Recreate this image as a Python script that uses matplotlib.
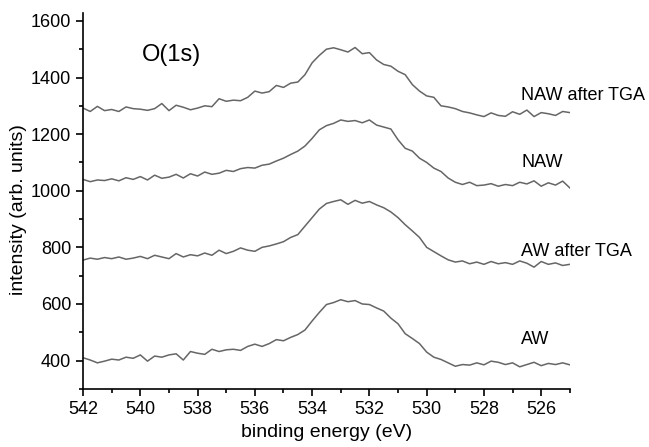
import numpy as np
import matplotlib
matplotlib.use("Agg")
import matplotlib.pyplot as plt
from matplotlib.ticker import MultipleLocator

plt.rcParams["font.family"] = ["Liberation Sans", "DejaVu Sans"]

# binding energy grid (eV), 542 -> 525 in 0.25 eV steps
energy = np.arange(542.0, 524.99, -0.25)

# O(1s) spectra
naw_tga = [1292, 1280, 1298, 1283, 1287, 1280, 1296, 1290, 1288, 1284,
           1290, 1308, 1283, 1302, 1295, 1286, 1292, 1300, 1297, 1325,
           1316, 1320, 1318, 1330, 1352, 1345, 1350, 1372, 1365, 1380,
           1384, 1410, 1452, 1478, 1500, 1505, 1498, 1490, 1506, 1484,
           1488, 1462, 1446, 1440, 1422, 1410, 1375, 1352, 1335, 1330,
           1300, 1296, 1290, 1280, 1275, 1268, 1262, 1275, 1266, 1263,
           1279, 1270, 1285, 1262, 1276, 1272, 1266, 1280, 1276]
naw = [1040, 1032, 1038, 1036, 1042, 1035, 1046, 1040, 1050, 1038,
       1055, 1044, 1048, 1058, 1045, 1060, 1052, 1066, 1058, 1062,
       1072, 1068, 1078, 1082, 1080, 1090, 1094, 1105, 1115, 1128,
       1140, 1158, 1185, 1215, 1230, 1238, 1250, 1245, 1248, 1240,
       1250, 1232, 1225, 1218, 1180, 1150, 1140, 1115, 1100, 1080,
       1068, 1045, 1030, 1022, 1030, 1018, 1020, 1025, 1016, 1022,
       1018, 1030, 1024, 1035, 1016, 1028, 1020, 1034, 1010]
aw_tga = [755, 762, 758, 764, 760, 766, 758, 762, 768, 760,
          772, 766, 760, 778, 766, 774, 770, 780, 772, 790,
          778, 786, 798, 790, 786, 800, 805, 812, 820, 835,
          845, 875, 905, 935, 955, 962, 968, 952, 966, 956,
          962, 950, 940, 925, 905, 880, 858, 835, 800, 785,
          770, 756, 748, 752, 742, 748, 740, 750, 742, 746,
          740, 752, 744, 730, 750, 740, 745, 736, 740]
aw = [410, 402, 392, 398, 405, 402, 412, 408, 420, 398,
      416, 412, 420, 424, 402, 432, 426, 422, 440, 432,
      438, 440, 436, 450, 458, 450, 460, 474, 470, 482,
      492, 508, 540, 570, 598, 605, 615, 608, 612, 600,
      598, 586, 575, 550, 530, 495, 478, 460, 430, 412,
      404, 392, 380, 386, 384, 392, 385, 398, 394, 386,
      392, 378, 386, 394, 382, 390, 386, 392, 385]

series = [naw_tga, naw, aw_tga, aw]
names = ["NAW after TGA", "NAW", "AW after TGA", "AW"]
label_y = [1335, 1100, 785, 474]

fig = plt.figure(figsize=(6.49, 4.47), dpi=100)
ax = fig.add_axes([0.128, 0.13, 0.75, 0.841])

for s in series:
    ax.plot(energy, s, color="#666666", linewidth=1.1)

for name, yy in zip(names, label_y):
    ax.text(526.7, yy, name, fontsize=13, va="center", ha="left", clip_on=False)

ax.text(538.9, 1478, "O(1s)", fontsize=17, ha="center", va="center")

ax.set_xlim(542, 525)
ax.set_ylim(300, 1628)
ax.xaxis.set_major_locator(MultipleLocator(2))
ax.xaxis.set_minor_locator(MultipleLocator(1))
ax.yaxis.set_major_locator(MultipleLocator(200))
ax.yaxis.set_minor_locator(MultipleLocator(100))
ax.set_yticks(np.arange(400, 1601, 200))

ax.spines["top"].set_visible(False)
ax.spines["right"].set_visible(False)
ax.spines["left"].set_linewidth(1.2)
ax.spines["bottom"].set_linewidth(1.2)
ax.tick_params(which="major", direction="out", length=5, width=1.2, labelsize=13)
ax.tick_params(which="minor", direction="out", length=3, width=1.2)

ax.set_xlabel("binding energy (eV)", fontsize=14, va="center")
ax.set_ylabel("intensity (arb. units)", fontsize=14, va="center")
ax.xaxis.set_label_coords(0.501, -0.117)
ax.yaxis.set_label_coords(-0.1335, 0.476)

fig.savefig("out.png", dpi=100)
